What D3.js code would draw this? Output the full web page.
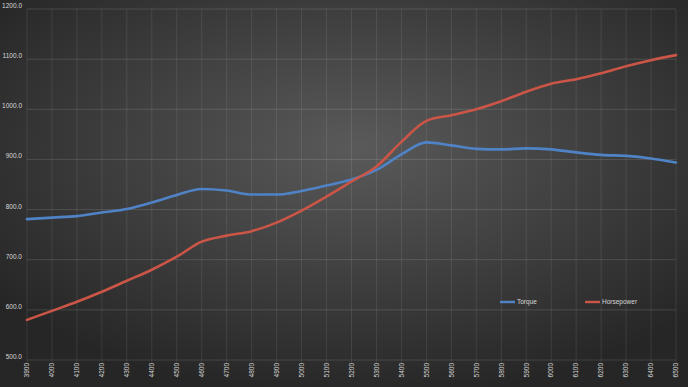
<!DOCTYPE html>
<html>
<head>
<meta charset="utf-8">
<title>Torque and Horsepower</title>
<script src="https://d3js.org/d3.v7.min.js"></script>
<style>
  * { margin: 0; padding: 0; }
  body { background: #2b2b2b; }
  #chart { width: 688px; height: 387px; }
  text { font-family: "Liberation Sans", Arial, sans-serif; }
</style>
</head>
<body>
<div id="chart"></div>
<script>
// 数据
const rpm = ["3900","4000","4100","4200","4300","4400","4500","4600","4700","4800","4900",
             "5000","5100","5200","5300","5400","5500","5600","5700","5800","5900","6000",
             "6100","6200","6300","6400","6500"];
const torque = [781, 784, 787, 794, 801, 814, 829, 841, 838, 830, 830,
                837, 848, 860, 879, 910, 934, 928, 921, 920, 922, 920,
                914, 909, 907, 902, 894];
const horsepower = [580, 598, 616, 636, 658, 680, 706, 736, 748, 757, 774,
                    798, 826, 856, 886, 935, 977, 988, 1000, 1016, 1035, 1051,
                    1060, 1072, 1086, 1098, 1108];
const yTicks = [500, 600, 700, 800, 900, 1000, 1100, 1200];
const seriesNames = ["Torque", "Horsepower"];
const colors = ["#4f83c6", "#cb5546"];

const W = 688, H = 387;
const margin = { top: 9, right: 12, bottom: 27, left: 27 };

const svg = d3.select("#chart").append("svg")
  .attr("width", W).attr("height", H);

// 背景径向渐变
const defs = svg.append("defs");
const grad = defs.append("radialGradient")
  .attr("id", "bg").attr("cx", "52%").attr("cy", "38%").attr("r", "65%");
grad.append("stop").attr("offset", "0%").attr("stop-color", "#5a5a5a");
grad.append("stop").attr("offset", "100%").attr("stop-color", "#262626");
svg.append("rect").attr("width", W).attr("height", H).attr("fill", "url(#bg)");

const x = d3.scalePoint().domain(rpm).range([margin.left, W - margin.right]);
const y = d3.scaleLinear().domain([500, 1200]).range([H - margin.bottom, margin.top]);

// 网格线
svg.append("g").selectAll("line.h").data(yTicks).join("line")
  .attr("x1", margin.left).attr("x2", W - margin.right)
  .attr("y1", d => y(d)).attr("y2", d => y(d))
  .attr("stroke", "rgba(255,255,255,0.13)").attr("stroke-width", 1);

svg.append("g").selectAll("line.v").data(rpm).join("line")
  .attr("x1", d => x(d)).attr("x2", d => x(d))
  .attr("y1", margin.top).attr("y2", H - margin.bottom + 5)
  .attr("stroke", "rgba(255,255,255,0.09)").attr("stroke-width", 1);

// Y轴标签
svg.append("g").selectAll("text").data(yTicks).join("text")
  .attr("x", 22).attr("y", d => y(d) - 1)
  .attr("text-anchor", "end")
  .attr("font-size", 6.5)
  .attr("fill", "#d9d9d9")
  .text(d => d3.format(".1f")(d));

// X轴标签（旋转）
svg.append("g").selectAll("text").data(rpm).join("text")
  .attr("transform", d => `translate(${x(d) + 2.3},${H - margin.bottom + 3}) rotate(-90)`)
  .attr("text-anchor", "end")
  .attr("font-size", 6.5)
  .attr("fill", "#d9d9d9")
  .text(d => d);

// 折线
const line = d3.line().x((d, i) => x(rpm[i])).y(d => y(d)).curve(d3.curveMonotoneX);
[torque, horsepower].forEach((s, k) => {
  svg.append("path").datum(s)
    .attr("d", line)
    .attr("fill", "none")
    .attr("stroke", colors[k])
    .attr("stroke-width", 2.6)
    .attr("stroke-linejoin", "round")
    .attr("stroke-linecap", "round");
});

// 图例
const legendX = [500, 585];
const legend = svg.append("g").selectAll("g").data(seriesNames).join("g")
  .attr("transform", (d, i) => `translate(${legendX[i]},302)`);
legend.append("line").attr("x1", 0).attr("x2", 15).attr("y1", 0).attr("y2", 0)
  .attr("stroke", (d, i) => colors[i]).attr("stroke-width", 2.4);
legend.append("text").attr("x", 17).attr("y", 2.3)
  .attr("font-size", 6.5).attr("fill", "#d9d9d9").text(d => d);
</script>
</body>
</html>
